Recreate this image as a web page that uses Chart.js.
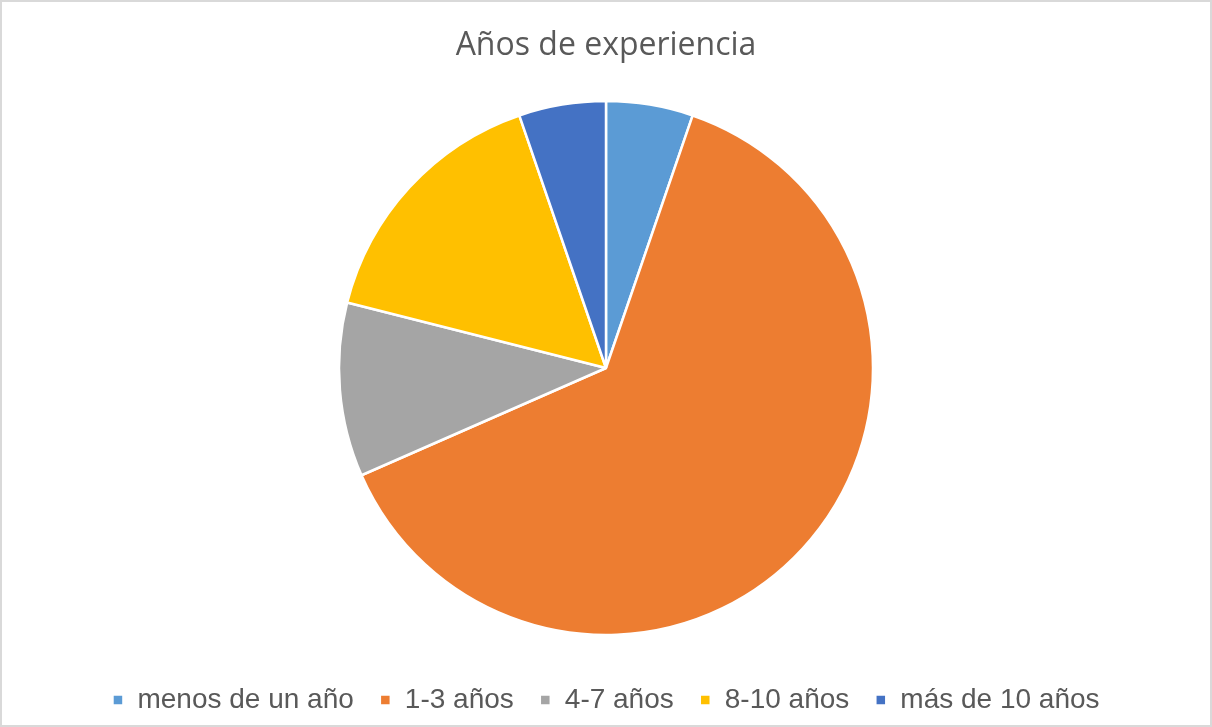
<!DOCTYPE html>
<html>
<head>
<meta charset="utf-8">
<script src="https://cdn.jsdelivr.net/npm/chart.js@4/dist/chart.umd.min.js"></script>
<style>
  html, body { margin: 0; padding: 0; background: #fff; }
  #wrap { position: relative; width: 1212px; height: 727px; }
</style>
</head>
<body>
<div id="wrap"><canvas id="c" width="1212" height="727"></canvas></div>
<script>
const titleText = 'Años de experiencia';
const categories = ['menos de un año', '1-3 años', '4-7 años', '8-10 años', 'más de 10 años'];
const values = [1, 12, 2, 3, 1];
const colors = ['#5B9BD5', '#ED7D31', '#A5A5A5', '#FFC000', '#4472C4'];

const frame = {
  id: 'frame',
  beforeDraw(chart) {
    const ctx = chart.ctx;
    ctx.save();
    ctx.fillStyle = '#ffffff';
    ctx.fillRect(0, 0, chart.width, chart.height);
    ctx.strokeStyle = '#d9d9d9';
    ctx.lineWidth = 2;
    ctx.strokeRect(1, 1, chart.width - 2, chart.height - 2);
    ctx.restore();
  }
};

new Chart(document.getElementById('c'), {
  type: 'pie',
  data: {
    labels: categories,
    datasets: [{
      data: values,
      backgroundColor: colors,
      borderColor: '#ffffff',
      borderWidth: 2.5,
      radius: 267
    }]
  },
  options: {
    responsive: false,
    animation: false,
    layout: { padding: { top: 0, bottom: 3, left: 0, right: 0 } },
    plugins: {
      title: {
        display: true,
        text: titleText,
        color: '#595959',
        font: { family: 'Open Sans', size: 32, weight: 'normal' },
        padding: { top: 27, bottom: 10.6 }
      },
      legend: {
        position: 'bottom',
        labels: {
          color: '#595959',
          font: { family: 'Liberation Sans', size: 28 },
          boxWidth: 11,
          boxHeight: 11,
          padding: 26
        }
      },
      tooltip: { enabled: false }
    }
  },
  plugins: [frame]
});
</script>
</body>
</html>
